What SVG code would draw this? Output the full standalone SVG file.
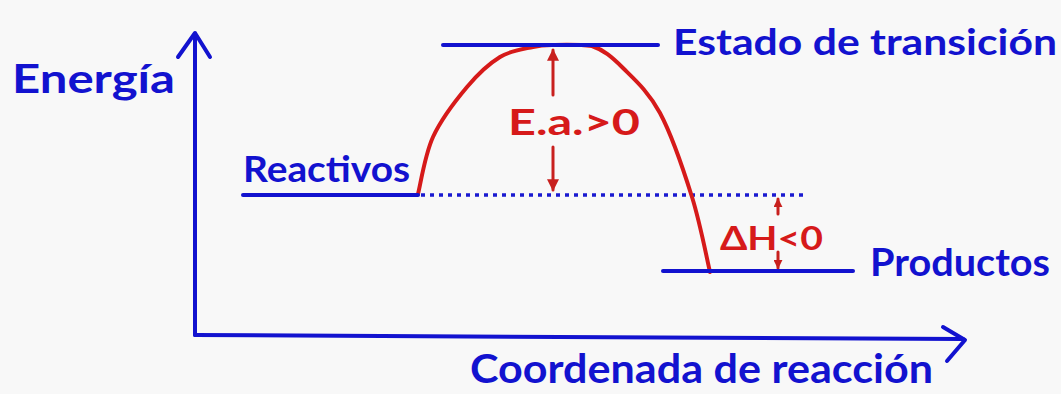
<svg xmlns="http://www.w3.org/2000/svg" width="1061" height="394" viewBox="0 0 1061 394">
  <defs>
    <style>
      .blue { stroke: #1212cf; stroke-width: 4; fill: none; stroke-linecap: round; stroke-linejoin: round; }
      .red { stroke: #d61a1a; stroke-width: 4; fill: none; stroke-linecap: round; stroke-linejoin: round; }
      .redthin { stroke: #c8201e; stroke-width: 3; fill: none; stroke-linecap: round; }
      .dots { stroke: #1a1ad0; stroke-width: 3.5; fill: none; stroke-dasharray: 4 5; stroke-linecap: butt; }
      .tb { font-family: Lato, "Noto Sans", sans-serif; fill: #1212cf; font-weight: bold; }
      .tr { font-family: Lato, "Noto Sans", sans-serif; fill: #d61a1a; font-weight: bold; }
    </style>
    <marker id="rh" viewBox="0 0 10 10" refX="9" refY="5" markerWidth="4" markerHeight="4" orient="auto-start-reverse" markerUnits="strokeWidth">
      <path d="M0,0 L10,5 L0,10 Z" fill="#c8201e"/>
    </marker>
    <marker id="rhs" viewBox="0 0 10 10" refX="9" refY="5" markerWidth="3" markerHeight="3" orient="auto-start-reverse" markerUnits="strokeWidth">
      <path d="M0,0 L10,5 L0,10 Z" fill="#c8201e"/>
    </marker>
  </defs>
  <rect width="1061" height="394" fill="#f8f8f8"/>

  <g id="connectors">
    <g id="y-axis">
      <path class="blue" d="M195,335 L195,34"/>
      <path class="blue" d="M178,57 L195,33 L210,57"/>
    </g>
    <g id="x-axis">
      <path class="blue" d="M195,335 L963,339"/>
      <path class="blue" d="M943,327 L965,340 L947,361"/>
    </g>
    <path id="dotted" class="dots" d="M421,195 L803,195"/>
    <path id="curve" class="red" d="M418,194 C420.5,184.5 424.8,154.8 433,137 C441.2,119.2 455.8,100.3 467,87 C478.2,73.7 489,63.7 500,57 C511,50.3 523.8,49 533,47 C542.2,45 545.2,45.2 555,45 C564.8,44.8 580,44.5 592,46 C603.3,49.8 611.7,56.8 623,68 C634.3,79.2 648.5,91.5 660,113 C671.5,134.5 683.7,170.5 692,197 C700.3,223.5 707,259.5 710,272"/>
    <g id="ea-arrows">
      <path class="redthin" d="M553,95 L553,50" marker-end="url(#rh)"/>
      <path class="redthin" d="M553,147 L553,190" marker-end="url(#rh)"/>
    </g>
    <g id="dh-arrows">
      <path class="redthin" d="M778,214 L778,199" marker-end="url(#rhs)"/>
      <path class="redthin" d="M778,252 L778,268" marker-end="url(#rhs)"/>
    </g>
  </g>

  <g id="energia">
    <text class="tb" x="12" y="93" font-size="40" textLength="163" lengthAdjust="spacingAndGlyphs">Energía</text>
  </g>
  <g id="estado-transicion">
    <path class="blue" d="M443,45 L658,45"/>
    <text class="tb" x="673" y="55" font-size="36" textLength="384" lengthAdjust="spacingAndGlyphs">Estado de transición</text>
  </g>
  <g id="reactivos">
    <path class="blue" d="M243,195 L418,195"/>
    <text class="tb" x="243" y="182" font-size="36" textLength="167" lengthAdjust="spacingAndGlyphs">Reactivos</text>
  </g>
  <g id="productos">
    <path class="blue" d="M663,271 L853,271"/>
    <text class="tb" x="870" y="276" font-size="38" textLength="180" lengthAdjust="spacingAndGlyphs">Productos</text>
  </g>
  <g id="coordenada">
    <text class="tb" x="470" y="383" font-size="40" textLength="463" lengthAdjust="spacingAndGlyphs">Coordenada de reacción</text>
  </g>
  <g id="ea-label">
    <text class="tr" x="508" y="135" font-size="36" textLength="132" lengthAdjust="spacingAndGlyphs">E.a.&gt;0</text>
  </g>
  <g id="dh-label">
    <text class="tr" x="720" y="250" font-size="32" textLength="103" lengthAdjust="spacingAndGlyphs">ΔH&lt;0</text>
  </g>
</svg>
